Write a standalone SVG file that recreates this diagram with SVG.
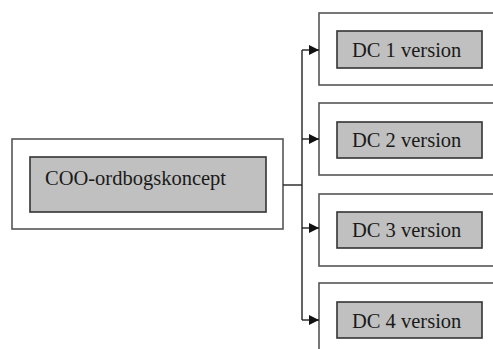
<svg xmlns="http://www.w3.org/2000/svg" width="493" height="349" viewBox="0 0 493 349">
<style>
.outer{fill:#fff;stroke:#555;stroke-width:1.6}
.inner{fill:#c0c0c0;stroke:#333;stroke-width:1.6}
.lbl{font-family:"Liberation Serif","Times New Roman",serif;font-size:20.5px;fill:#1a1a1a}
.con{fill:none;stroke:#222;stroke-width:1.4}
</style>
<defs>
<marker id="ah" viewBox="0 0 10 10" refX="10" refY="5" markerWidth="10" markerHeight="10" markerUnits="userSpaceOnUse" orient="auto">
<path d="M0,0 L10,5 L0,10 z" fill="#111"/>
</marker>
</defs>
<rect width="493" height="349" fill="#fff"/>
<g id="root">
<rect class="outer" x="12" y="139" width="271" height="90"/>
<rect class="inner" x="30" y="157" width="236" height="55"/>
<text class="lbl" x="45" y="185">COO-ordbogskoncept</text>
</g>
<g id="dc1">
<rect class="outer" x="319" y="13" width="180" height="72"/>
<rect class="inner" x="337" y="31" width="145" height="37"/>
<text class="lbl" x="352" y="57">DC 1 version</text>
</g>
<g id="dc2">
<rect class="outer" x="319" y="103" width="180" height="72"/>
<rect class="inner" x="337" y="122" width="145" height="36"/>
<text class="lbl" x="352" y="147">DC 2 version</text>
</g>
<g id="dc3">
<rect class="outer" x="319" y="194" width="180" height="72"/>
<rect class="inner" x="337" y="212" width="145" height="36"/>
<text class="lbl" x="352" y="237">DC 3 version</text>
</g>
<g id="dc4">
<rect class="outer" x="319" y="283" width="180" height="72"/>
<rect class="inner" x="337" y="302" width="145" height="36"/>
<text class="lbl" x="352" y="328">DC 4 version</text>
</g>
<g id="connectors">
<path class="con" d="M283,185 H302"/>
<path class="con" d="M302,50 V320"/>
<path class="con" d="M302,50 H319" marker-end="url(#ah)"/>
<path class="con" d="M302,139 H319" marker-end="url(#ah)"/>
<path class="con" d="M302,228 H319" marker-end="url(#ah)"/>
<path class="con" d="M302,320 H319" marker-end="url(#ah)"/>
</g>
</svg>
